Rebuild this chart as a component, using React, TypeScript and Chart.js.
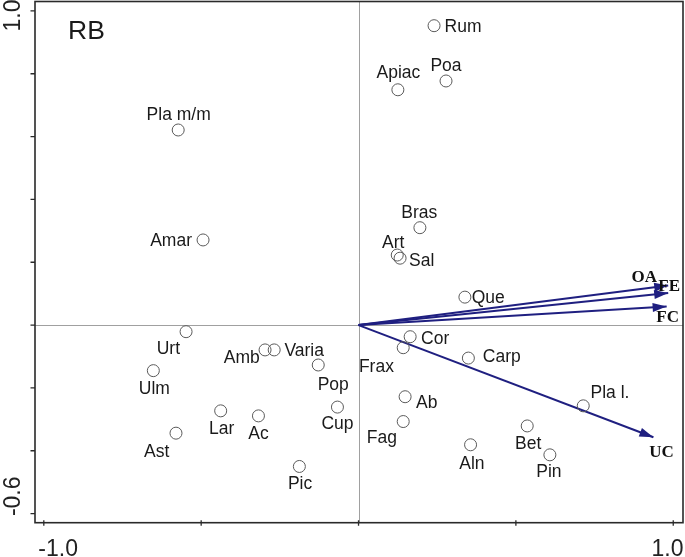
import React, { useEffect, useRef } from 'react';
import { Chart, registerables } from 'chart.js';

Chart.register(...registerables);

// ---- Data ----
const speciesNames = ['Rum', 'Poa', 'Apiac', 'Pla m/m', 'Bras', 'Art', 'Sal', 'Amar', 'Que', 'Cor', 'Frax', 'Carp', 'Urt', 'Amb', 'Varia', 'Pop', 'Ulm', 'Ab', 'Pla l.', 'Cup', 'Lar', 'Ac', 'Fag', 'Bet', 'Ast', 'Aln', 'Pin', 'Pic'];
const speciesX = [0.240, 0.278, 0.125, -0.573, 0.195, 0.123, 0.132, -0.494, 0.338, 0.164, 0.142, 0.349, -0.548, -0.297, -0.268, -0.128, -0.652, 0.148, 0.714, -0.067, -0.438, -0.318, 0.142, 0.536, -0.580, 0.356, 0.608, -0.188];
const speciesY = [0.953, 0.777, 0.749, 0.621, 0.310, 0.223, 0.213, 0.271, 0.089, -0.037, -0.072, -0.105, -0.021, -0.079, -0.079, -0.127, -0.145, -0.228, -0.257, -0.261, -0.273, -0.289, -0.307, -0.321, -0.344, -0.381, -0.413, -0.450];

const envNames = ['OA', 'FE', 'FC', 'UC'];
const envX = [0.984, 0.984, 0.979, 0.937];
const envY = [0.126, 0.102, 0.059, -0.357];

const xTickValues = [-1.0, -0.5, 0, 0.5, 1.0];
const xTickLabels = ['-1.0', '', '', '', '1.0'];
const yTickValues = [-0.6, -0.4, -0.2, 0, 0.2, 0.4, 0.6, 0.8, 1.0];
const yTickLabels = ['-0.6', '', '', '', '', '', '', '', '1.0'];

const panelLabel = 'RB';

// ---- Label placement (pixel offsets of label centre from marker) ----
const speciesLabelDx = [29, 0, 0.5, 0.5, -0.7, -4, 21.7, -32, 23.3, 25, -26.8, 33.4, -17.7, -23.3, 30, 15, 1, 21.7, 26.7, 0, 1, 0, -21.3, 1, -19.3, 1.3, -1, 0.7];
const speciesLabelDy = [0, -16.7, -16.7, -16.5, -16, -13.3, 1.7, 0, 0, 0.6, 18.3, -1, 16, 7.3, 0, 20.7, 17, 5, -14.3, 17, 17.3, 16.7, 16.8, 16.7, 17.4, 18, 16, 16.6];
const envLabelDx = [-24, 1, 1, 8];
const envLabelDy = [-9, -8, 10, 14];

const NAVY = '#1f1f80';
const SANS = '"Liberation Sans", Arial, sans-serif';
const SERIF = '"Liberation Serif", "Times New Roman", serif';

const biplotPlugin = {
  id: 'biplot',
  beforeDatasetsDraw(chart: any) {
    const { ctx, chartArea: a, scales } = chart;
    const xs = scales.x;
    const ys = scales.y;
    ctx.save();
    ctx.strokeStyle = '#a0a0a0';
    ctx.lineWidth = 1;
    const x0 = Math.round(xs.getPixelForValue(0)) + 0.5;
    const y0 = Math.round(ys.getPixelForValue(0)) + 0.5;
    ctx.beginPath();
    ctx.moveTo(x0, a.top);
    ctx.lineTo(x0, a.bottom);
    ctx.moveTo(a.left, y0);
    ctx.lineTo(a.right, y0);
    ctx.stroke();
    ctx.restore();
  },
  afterDatasetsDraw(chart: any) {
    const { ctx, chartArea: a, scales } = chart;
    const xs = scales.x;
    const ys = scales.y;
    ctx.save();

    // arrowheads
    const ox = xs.getPixelForValue(0);
    const oy = ys.getPixelForValue(0);
    envNames.forEach((name, i) => {
      const tx = xs.getPixelForValue(envX[i]);
      const ty = ys.getPixelForValue(envY[i]);
      const ang = Math.atan2(ty - oy, tx - ox);
      const len = 14;
      const hw = 4.5;
      const bx = tx - len * Math.cos(ang);
      const by = ty - len * Math.sin(ang);
      ctx.fillStyle = NAVY;
      ctx.beginPath();
      ctx.moveTo(tx, ty);
      ctx.lineTo(bx + hw * Math.sin(ang), by - hw * Math.cos(ang));
      ctx.lineTo(bx - hw * Math.sin(ang), by + hw * Math.cos(ang));
      ctx.closePath();
      ctx.fill();
      // label
      ctx.font = `bold 17px ${SERIF}`;
      ctx.fillStyle = '#111';
      ctx.textAlign = 'center';
      ctx.textBaseline = 'alphabetic';
      ctx.fillText(name, tx + envLabelDx[i], ty + envLabelDy[i] + 0.33 * 17);
    });

    // species labels
    const fs = 17.5;
    ctx.font = `${fs}px ${SANS}`;
    ctx.fillStyle = '#1a1a1a';
    ctx.textAlign = 'center';
    ctx.textBaseline = 'alphabetic';
    speciesNames.forEach((name, i) => {
      const px = xs.getPixelForValue(speciesX[i]) + speciesLabelDx[i];
      const py = ys.getPixelForValue(speciesY[i]) + speciesLabelDy[i];
      const desc = /[gjpqy]/.test(name);
      ctx.fillText(name, px, py + (desc ? 0.253 : 0.358) * fs);
    });

    // frame
    ctx.strokeStyle = '#2a2a2a';
    ctx.lineWidth = 1.6;
    ctx.strokeRect(a.left, a.top, a.right - a.left, a.bottom - a.top);

    // ticks
    ctx.lineWidth = 1.3;
    ctx.beginPath();
    xTickValues.forEach((v) => {
      const px = xs.getPixelForValue(v);
      ctx.moveTo(px, a.bottom - 2.5);
      ctx.lineTo(px, a.bottom + 3);
    });
    yTickValues.forEach((v) => {
      const py = ys.getPixelForValue(v);
      ctx.moveTo(a.left - 4.5, py);
      ctx.lineTo(a.left, py);
    });
    ctx.stroke();

    // tick labels
    ctx.font = `23px ${SANS}`;
    ctx.fillStyle = '#222';
    ctx.textBaseline = 'alphabetic';
    xTickValues.forEach((v, i) => {
      const lab = xTickLabels[i];
      if (!lab) return;
      const px = xs.getPixelForValue(v);
      if (i === 0) {
        ctx.textAlign = 'left';
        ctx.fillText(lab, px - 5.5, 556);
      } else if (i === xTickValues.length - 1) {
        ctx.textAlign = 'right';
        ctx.fillText(lab, a.right + 0.5, 556);
      } else {
        ctx.textAlign = 'center';
        ctx.fillText(lab, px, 556);
      }
    });
    yTickValues.forEach((v, i) => {
      const lab = yTickLabels[i];
      if (!lab) return;
      const py = ys.getPixelForValue(v);
      ctx.save();
      if (i === 0) {
        ctx.translate(19.8, py + 2.5);
        ctx.rotate(-Math.PI / 2);
        ctx.textAlign = 'left';
      } else {
        ctx.translate(19.8, Math.max(py - 11.5, -0.5));
        ctx.rotate(-Math.PI / 2);
        ctx.textAlign = 'right';
      }
      ctx.fillText(lab, 0, 0);
      ctx.restore();
    });

    // panel label
    ctx.font = `26.5px ${SANS}`;
    ctx.textAlign = 'left';
    ctx.fillStyle = '#1a1a1a';
    ctx.fillText(panelLabel, a.left + 33, a.top + 37.5);

    ctx.restore();
  },
};

export default function App() {
  const canvasRef = useRef<HTMLCanvasElement | null>(null);

  useEffect(() => {
    if (!canvasRef.current) return;
    const arrowSets = envNames.map((name, i) => ({
      type: 'line' as const,
      label: name,
      data: [
        { x: 0, y: 0 },
        { x: envX[i], y: envY[i] },
      ],
      borderColor: NAVY,
      borderWidth: 2,
      pointRadius: 0,
      showLine: true,
      fill: false,
      order: 2,
    }));
    const chart = new Chart(canvasRef.current, {
      type: 'scatter',
      data: {
        datasets: [
          {
            label: 'species',
            data: speciesX.map((x, i) => ({ x, y: speciesY[i] })),
            pointRadius: 6,
            pointBorderWidth: 1,
            pointBorderColor: '#5a5a5a',
            pointBackgroundColor: 'rgba(255,255,255,0)',
            showLine: false,
            order: 1,
          } as any,
          ...arrowSets,
        ],
      },
      options: {
        responsive: false,
        animation: false,
        events: [],
        layout: { autoPadding: false, padding: { left: 35, right: 2, top: 1.5, bottom: 34.3 } },
        plugins: {
          legend: { display: false },
          tooltip: { enabled: false },
        },
        scales: {
          x: { type: 'linear', display: false, min: -1.028, max: 1.031 },
          y: { type: 'linear', display: false, min: -0.629, max: 1.03 },
        },
      } as any,
      plugins: [biplotPlugin],
    });
    return () => chart.destroy();
  }, []);

  return (
    <div style={{ position: 'absolute', left: 0, top: 0, width: 685, height: 557, background: '#fff' }}>
      <canvas ref={canvasRef} width={685} height={557} style={{ display: 'block', width: 685, height: 557 }} />
    </div>
  );
}
